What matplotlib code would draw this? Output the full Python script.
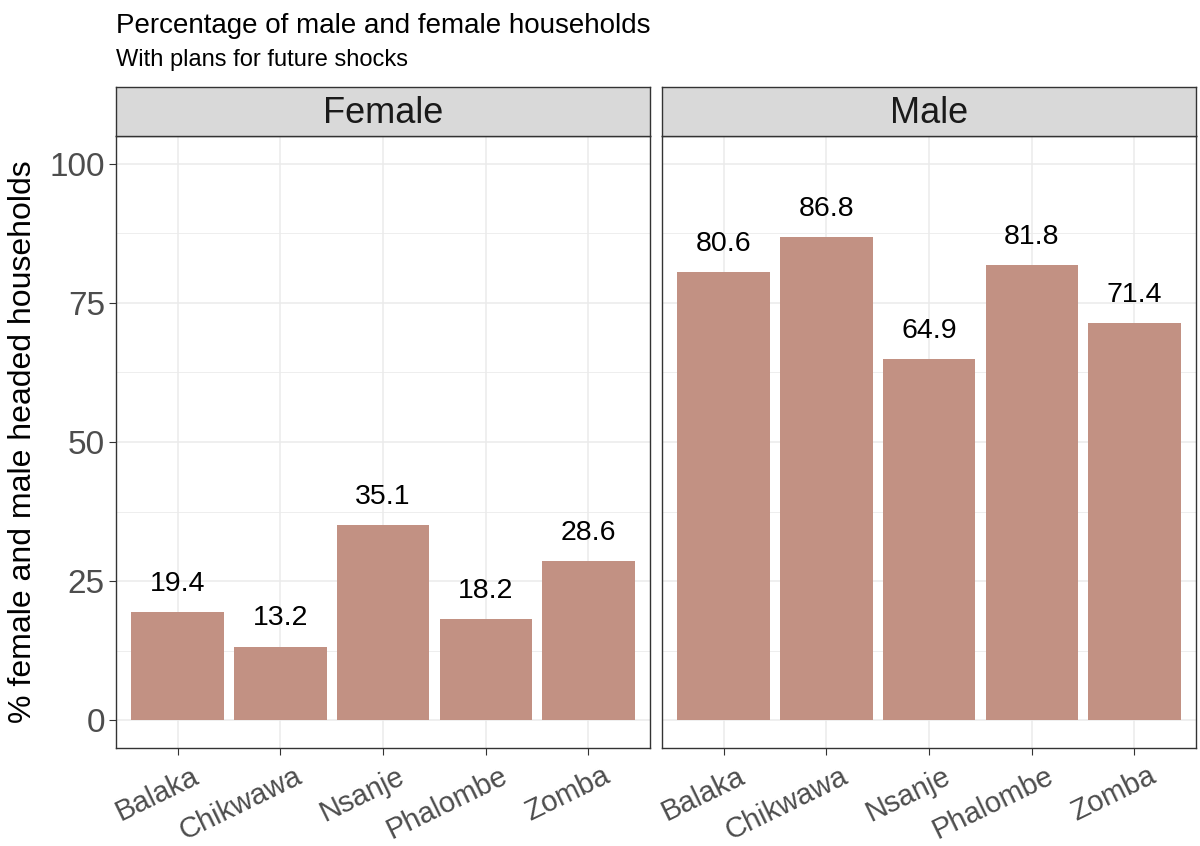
"""Bar chart: share of female / male headed households with plans for future shocks.
"""
import numpy as np
import matplotlib.pyplot as plt

plt.rcParams['font.family'] = ['Liberation Sans', 'DejaVu Sans']

# data
districts = ['Balaka', 'Chikwawa', 'Nsanje', 'Phalombe', 'Zomba']
panels = ['Female', 'Male']
female_pct = [19.4, 13.2, 35.1, 18.2, 28.6]
male_pct = [80.6, 86.8, 64.9, 81.8, 71.4]
y_ticks = [0, 25, 50, 75, 100]

BAR_COLOR = '#C29183'
GRID_COLOR = '#EBEBEB'
EDGE = '#333333'

fig = plt.figure(figsize=(12, 8.46), dpi=100)

# panel positions in figure fraction
bottom, top = 0.1158, 0.8392
strip_h = 0.0579
lefts = [0.0967, 0.5517]
width = 0.445

x = np.arange(len(districts))
for i, (name, vals) in enumerate(zip(panels, [female_pct, male_pct])):
    ax = fig.add_axes([lefts[i], bottom, width, top - bottom])
    ax.bar(x, vals, width=0.9, color=BAR_COLOR, zorder=2)
    for xi, v in zip(x, vals):
        ax.annotate(f'{v:.1f}', (xi, v), xytext=(0, 11), textcoords='offset points',
                    ha='center', va='bottom', fontsize=20.5, color='black')

    ax.set_xlim(-0.6, len(districts) - 0.4)
    ax.set_ylim(-5, 105)
    ax.set_yticks(y_ticks)
    ax.set_yticks([12.5, 37.5, 62.5, 87.5], minor=True)
    ax.set_xticks(x)
    ax.set_xticklabels([])
    # rotated x labels, anchored top-right a little right of the tick (ggplot hjust=1)
    for xi, lab in zip(x, districts):
        ax.annotate(lab, (xi, 0), xycoords=('data', 'axes fraction'),
                    xytext=(10, -10), textcoords='offset points',
                    rotation=26, rotation_mode='anchor', ha='right', va='top',
                    fontsize=21, color='#4D4D4D', annotation_clip=False)
    ax.grid(True, which='major', color=GRID_COLOR, linewidth=1.1, zorder=0)
    ax.grid(True, which='minor', axis='y', color=GRID_COLOR, linewidth=0.6, zorder=0)
    ax.set_axisbelow(True)
    for sp in ax.spines.values():
        sp.set_color(EDGE)
        sp.set_linewidth(1.0)
    ax.tick_params(axis='x', length=5, color=EDGE)
    ax.tick_params(axis='y', which='minor', length=0)
    if i == 0:
        ax.tick_params(axis='y', length=5, color=EDGE, labelsize=24,
                       labelcolor='#4D4D4D', pad=3)
        ax.set_ylabel('% female and male headed households', fontsize=23, labelpad=8)
    else:
        ax.tick_params(axis='y', length=0, labelleft=False)

    # facet strip
    sax = fig.add_axes([lefts[i], top, width, strip_h])
    sax.set_facecolor('#D9D9D9')
    sax.set_xticks([])
    sax.set_yticks([])
    for sp in sax.spines.values():
        sp.set_color(EDGE)
        sp.set_linewidth(1.0)
    sax.text(0.5, 0.45, name, transform=sax.transAxes, ha='center', va='center',
             fontsize=26, color='#1A1A1A')

fig.text(0.0967, 0.969, 'Percentage of male and female households',
         fontsize=20, ha='left', va='center')
fig.text(0.0967, 0.929, 'With plans for future shocks',
         fontsize=17, ha='left', va='center')

plt.savefig('out.png', dpi=100)
